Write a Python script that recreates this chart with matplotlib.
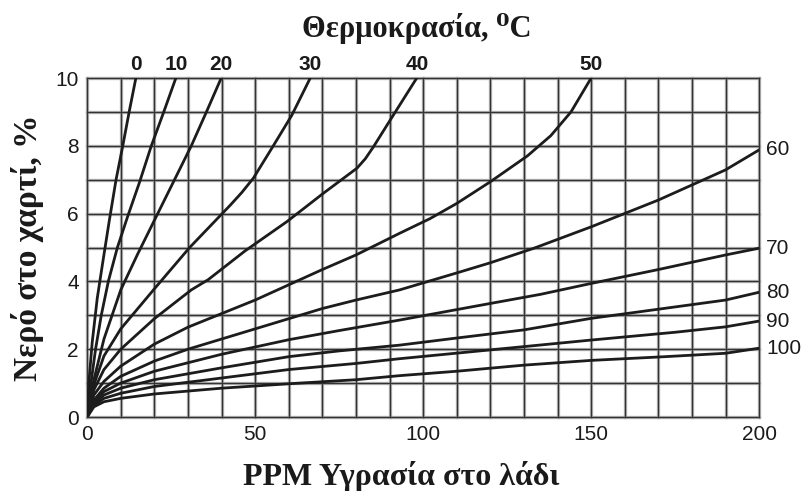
import matplotlib
matplotlib.use('Agg')
import matplotlib.pyplot as plt

# Καμπύλες ισορροπίας νερού χαρτιού / λαδιού (ppm στο λάδι -> % νερό στο χαρτί)
ppm_0 = [0, 0.5, 1.5, 3.0, 4.7, 6.6, 8.6, 10.6, 12.5, 14.5]
water_0 = [0, 1.0, 2.2, 3.5, 4.6, 5.8, 7.0, 8.0, 9.0, 10.0]

ppm_10 = [0, 1, 2.5, 4.2, 6.3, 9, 12, 15.5, 19.1, 22.8, 26.4]
water_10 = [0, 0.9, 2.0, 3.0, 4.0, 5.0, 5.9, 6.9, 8.0, 9.0, 10.0]

ppm_20 = [0, 2, 5, 10, 15, 21, 26.5, 31, 35.5, 39.9]
water_20 = [0, 1.1, 2.3, 3.75, 4.8, 6.0, 7.1, 8.0, 9.0, 10.0]

ppm_30 = [0, 2, 5, 10, 20, 30.5, 36.5, 42.6, 46, 49.5, 55.4, 60.9, 66.4]
water_30 = [0, 0.95, 1.8, 2.6, 3.78, 5.0, 5.62, 6.25, 6.62, 7.05, 8.0, 8.9, 10.0]

ppm_40 = [0, 2, 5, 10, 20, 31, 36, 47, 59.4, 70.3, 80.3, 82.8, 85.2, 90.2, 98.1]
water_40 = [0, 0.8, 1.4, 2.0, 2.9, 3.75, 4.05, 4.9, 5.76, 6.6, 7.34, 7.62, 7.97, 8.76, 10.0]

ppm_50 = [0, 2, 5, 10, 20, 30, 40, 50, 60, 70, 80, 93, 102, 110, 120, 131, 138, 144, 150]
water_50 = [0, 0.65, 1.05, 1.5, 2.15, 2.65, 3.05, 3.45, 3.9, 4.35, 4.78, 5.42, 5.85, 6.3, 6.94, 7.7, 8.3, 9.0, 10.0]

ppm_60 = [0, 2, 5, 10, 20, 30, 40, 50, 60, 70, 80, 93, 110, 120, 133, 150, 170, 190, 200]
water_60 = [0, 0.5, 0.85, 1.2, 1.65, 2.0, 2.3, 2.6, 2.9, 3.2, 3.45, 3.75, 4.25, 4.55, 4.98, 5.61, 6.4, 7.29, 7.88]

ppm_70 = [0, 2, 5, 10, 20, 40, 60, 75, 93, 120, 135, 150, 170, 190, 200]
water_70 = [0, 0.45, 0.75, 1.0, 1.35, 1.85, 2.28, 2.55, 2.86, 3.35, 3.62, 3.94, 4.35, 4.78, 4.98]

ppm_80 = [0, 2, 5, 10, 20, 40, 60, 75, 93, 110, 130, 150, 170, 190, 200]
water_80 = [0, 0.4, 0.65, 0.85, 1.1, 1.45, 1.78, 1.95, 2.12, 2.33, 2.57, 2.91, 3.18, 3.45, 3.68]

ppm_90 = [0, 2, 5, 10, 20, 40, 60, 80, 93, 120, 150, 175, 190, 200]
water_90 = [0, 0.35, 0.55, 0.7, 0.9, 1.15, 1.4, 1.58, 1.72, 1.98, 2.27, 2.5, 2.66, 2.83]

ppm_100 = [0, 2, 5, 10, 20, 40, 60, 80, 93, 110, 130, 150, 172, 190, 200]
water_100 = [0, 0.3, 0.45, 0.55, 0.68, 0.85, 0.98, 1.1, 1.22, 1.35, 1.53, 1.67, 1.78, 1.88, 2.03]

temps = [0, 10, 20, 30, 40, 50, 60, 70, 80, 90, 100]
curves = [
    (ppm_0, water_0), (ppm_10, water_10), (ppm_20, water_20),
    (ppm_30, water_30), (ppm_40, water_40), (ppm_50, water_50),
    (ppm_60, water_60), (ppm_70, water_70), (ppm_80, water_80),
    (ppm_90, water_90), (ppm_100, water_100),
]

x_ticks = [0, 50, 100, 150, 200]
y_ticks = [0, 2, 4, 6, 8, 10]

plt.rcParams['font.family'] = ['Liberation Sans', 'DejaVu Sans']
serif = ['Liberation Serif', 'DejaVu Serif']

fig = plt.figure(figsize=(8.07, 4.91), dpi=100)
ax = fig.add_axes([0.108, 0.1507, 0.8327, 0.6904])
ax.set_xlim(0, 200)
ax.set_ylim(0, 10)

# πλέγμα: σκούρα γραμμή με γκρι "άλω" όπως στο σαρωμένο διάγραμμα
for gx in range(0, 201, 10):
    ax.axvline(gx, color='#bdbdbd', lw=2.4, zorder=1, clip_on=False)
    ax.axvline(gx, color='#333333', lw=1.0, zorder=1.5, clip_on=False)
for gy in range(0, 11):
    ax.axhline(gy, color='#bdbdbd', lw=2.4, zorder=1, clip_on=False)
    ax.axhline(gy, color='#333333', lw=1.0, zorder=1.5, clip_on=False)
for s in ax.spines.values():
    s.set_visible(False)

for t, (px, wy) in zip(temps, curves):
    ax.plot(px, wy, color='#1c1c1c', lw=2.0, zorder=3,
            solid_capstyle='round', solid_joinstyle='round')
    if wy[-1] >= 10:
        # θερμοκρασία πάνω από το άκρο της καμπύλης
        ax.annotate(str(t), (px[-1], 10), xytext=(0, 3), textcoords='offset points',
                    ha='center', va='bottom', fontsize=15, fontweight='bold',
                    color='#1a1a1a', annotation_clip=False)
    else:
        ax.annotate(str(t), (200, wy[-1]), xytext=(5, 0), textcoords='offset points',
                    ha='left', va='center', fontsize=15, color='#1a1a1a',
                    annotation_clip=False)

ax.set_xticks(x_ticks)
ax.set_yticks(y_ticks)
ax.tick_params(length=0, pad=6, labelsize=15, labelcolor='#1a1a1a')

fig.text(417 / 807, 1 - 37 / 491, 'Θερμοκρασία, ⁰C', ha='center', va='baseline',
         family=serif, fontsize=22, fontweight='bold', color='#1a1a1a')
fig.text(401 / 807, 1 - 485 / 491, 'PPM Υγρασία στο λάδι', ha='center', va='baseline',
         family=serif, fontsize=23, fontweight='bold', color='#1a1a1a')
fig.text(28 / 807, 1 - 248 / 491, 'Νερό στο χαρτί, %', ha='center', va='center',
         rotation=90, family=serif, fontsize=24, fontweight='bold', color='#1a1a1a')

fig.savefig('out.png', dpi=100)
